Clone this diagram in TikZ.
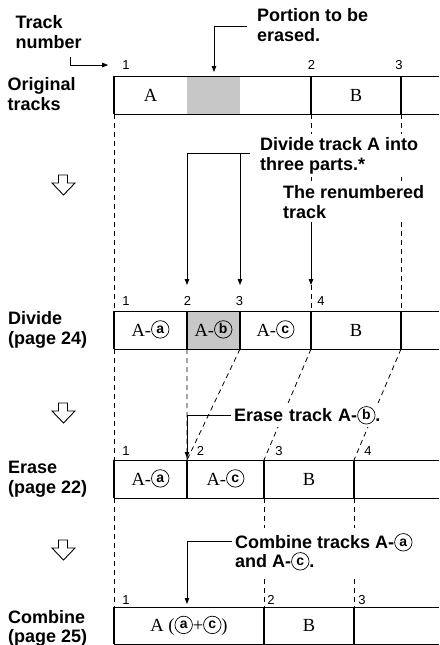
\documentclass[tikz,border=0pt]{standalone}
\usepackage{fontspec}
\setmainfont{Liberation Serif}
\setsansfont{Liberation Sans}
\usetikzlibrary{arrows.meta}

\tikzset{
  rowline/.style={line width=1pt},
  divider/.style={line width=2pt},
  guide/.style={line width=0.8pt, dash pattern=on 5pt off 4pt},
  leader/.style={line width=0.9pt, -{Triangle[length=6pt,width=4.5pt]}},
  caption/.style={font=\sffamily\bfseries\fontsize{18}{20}\selectfont, align=left, anchor=north west, inner sep=0pt},
  note/.style={caption, fill=white, inner sep=3pt},
  tracknum/.style={font=\sffamily\fontsize{13}{13}\selectfont, anchor=base, inner sep=0pt},
  tracklabel/.style={font=\fontsize{18.5}{20}\selectfont, text height=12pt, text depth=0pt, inner sep=0pt},
  erased/.style={fill=black!22},
  stepdown/.style={draw, line width=0.9pt, fill=white}
}
\newcommand{\encl}[1]{\tikz[baseline={([yshift=2.5pt]e.south)}]\node[draw, circle, line width=0.7pt, minimum size=17.5pt, inner sep=0pt, text height=8pt, text depth=0pt, font=\sffamily\bfseries\fontsize{14}{14}\selectfont] (e) {#1};}

\begin{document}
\begin{tikzpicture}[x=1pt, y=-1pt]
    \useasboundingbox (0,0) rectangle (439,645);

    % Original tracks
    \fill[erased] (187,76) rectangle (240,114);
    \draw[rowline] (114,76) -- (439,76) (114,114) -- (439,114);
    \foreach \x [count=\i] in {114,311,401}
        \draw[divider] (\x,76) coordinate (o\i t) -- (\x,114) coordinate (o\i b);
    \node[tracklabel] (oA) at (150.5,95) {A};
    \node[tracklabel] (oB) at (356,95) {B};
    \node[tracknum] (on1) at (126,69.5) {1};
    \node[tracknum] (on2) at (311.5,69.5) {2};
    \node[tracknum] (on3) at (399,69.5) {3};

    % Divide
    \fill[erased] (187,311) rectangle (240,349);
    \draw[rowline] (114,311) -- (439,311) (114,349) -- (439,349);
    \foreach \x [count=\i] in {114,187,240,311,401}
        \draw[divider] (\x,311) coordinate (d\i t) -- (\x,349) coordinate (d\i b);
    \node[tracklabel] (dA) at (150.5,330) {A-\encl{a}};
    \node[tracklabel] (dB) at (213.5,330) {A-\encl{b}};
    \node[tracklabel] (dC) at (275.5,330) {A-\encl{c}};
    \node[tracklabel] (dD) at (356,330) {B};
    \node[tracknum] (dn1) at (126,305) {1};
    \node[tracknum] (dn2) at (187.5,305) {2};
    \node[tracknum] (dn3) at (239.5,305) {3};
    \node[tracknum] (dn4) at (321,305) {4};

    % Erase
    \draw[rowline] (114,460) -- (439,460) (114,498) -- (439,498);
    \foreach \x [count=\i] in {114,187,264,354}
        \draw[divider] (\x,460) coordinate (e\i t) -- (\x,498) coordinate (e\i b);
    \node[tracklabel] (eA) at (150.5,479) {A-\encl{a}};
    \node[tracklabel] (eC) at (225.5,479) {A-\encl{c}};
    \node[tracklabel] (eD) at (309,479) {B};
    \node[tracknum] (en1) at (126,455) {1};
    \node[tracknum] (en2) at (200.5,455) {2};
    \node[tracknum] (en3) at (279,455) {3};
    \node[tracknum] (en4) at (368,455) {4};

    % Combine
    \draw[rowline] (114,607) -- (439,607) (114,644) -- (439,644);
    \foreach \x [count=\i] in {114,264,354}
        \draw[divider] (\x,607) coordinate (c\i t) -- (\x,644) coordinate (c\i b);
    \node[tracklabel] (cA) at (189,625.5) {A (\encl{a}+\encl{c})};
    \node[tracklabel] (cB) at (309,625.5) {B};
    \node[tracknum] (cn1) at (126,604) {1};
    \node[tracknum] (cn2) at (271,604) {2};
    \node[tracknum] (cn3) at (362,604) {3};

    % Guide lines between the rows
    \draw[guide] (o1b) -- (d1t) (d1b) -- (e1t) (e1b) -- (c1t);
    \draw[guide] (o2b) -- (d4t) (o3b) -- (d5t);
    \draw[guide] (d2b) -- (e2t) (d3b) -- (e2t) (d4b) -- (e3t) (d5b) -- (e4t);
    \draw[guide] (e3b) -- (c2t) (e4b) -- (c3t);

    % Row captions
    \node[caption] (tn) at (15.5,15.5) {Track\\number};
    \node[caption] (orig) at (7.5,77) {Original\\tracks};
    \node[caption] (div) at (8,311) {Divide\\(page 24)};
    \node[caption] (ers) at (8,460.5) {Erase\\(page 22)};
    \node[caption, font=\sffamily\bfseries\fontsize{18}{19}\selectfont] (cmb) at (8,610) {Combine\\(page 25)};

    % Notes
    \node[note] (pe) at (254,5) {Portion to be\\erased.};
    \node[note] (dv) at (257,134) {Divide track A into\\three parts.*};
    \node[note, inner ysep=4pt] (rn) at (280,181) {The renumbered\\track};
    \node[note, text width=152pt] (er) at (231,403) {Erase track A-\encl{b}.};
    \node[note, inner ysep=5pt, font=\sffamily\bfseries\fontsize{18}{19}\selectfont] (cm) at (232,528) {Combine tracks A-\encl{a}\\and A-\encl{c}.};

    % Leaders
    \coordinate (tn-tail) at (70,57);
    \coordinate (o-tip) at (214,72);
    \coordinate (d2-tip) at (187,285);
    \coordinate (d3-tip) at (240,285);
    \coordinate (d4-tip) at (311,285);
    \coordinate (e2-tip) at (187,458);
    \coordinate (c1-tip) at (187,604);
    \coordinate (dv-lead) at ([xshift=-7pt,yshift=2pt]dv.west);
    \draw[leader, shorten >=14pt] (tn-tail) |- (on1);
    \draw[leader] (pe.west) ++(-7,1.5) -| (o-tip);
    \draw[leader] (dv-lead) -| (d2-tip);
    \draw[leader] (dv-lead -| d3-tip) -- (d3-tip);
    \draw[leader] (rn.south -| d4-tip) -- (d4-tip);
    \draw[leader] (er.west) -| (e2-tip);
    \draw[leader] ([yshift=10pt]cm.west) -| (c1-tip);

    % Step arrows
    \foreach \t in {175,403,540}
        \draw[stepdown] (58.5,\t) -- (67.5,\t) -- (67.5,\t+8) -- (75,\t+8) -- (63.5,\t+20)
            -- (52,\t+8) -- (58.5,\t+8) -- cycle;
\end{tikzpicture}
\end{document}
